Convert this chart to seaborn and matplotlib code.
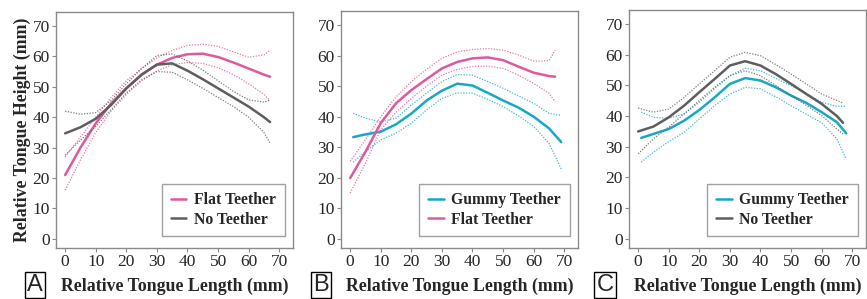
import numpy as np
import pandas as pd
import matplotlib
matplotlib.use("Agg")
import matplotlib.pyplot as plt
import seaborn as sns

# ---------------- data ----------------
x_std = [0, 5, 10, 15, 20, 25, 30, 35, 40, 45, 50, 55, 60, 65, 67]

# Panel A
flat_a = [21, 30, 38, 44.5, 49.5, 54, 57.3, 59.5, 60.7, 60.9, 59.8, 58, 56, 54, 53.3]
flat_a_hi = [27, 33.5, 40, 46.5, 52, 56, 59.5, 62, 63.6, 64, 63.3, 61.5, 59.7, 60.5, 62]
flat_a_lo = [16, 26, 35, 42, 47.5, 52, 55.2, 57.3, 58, 57.7, 56.3, 54, 51, 47.5, 45.5]
none_a = [34.7, 36.7, 39.5, 44, 49.5, 54, 57.3, 57.7, 55.3, 52.5, 49.5, 46.5, 43.5, 40, 38.4]
none_a_hi = [42, 41, 41.5, 45.5, 51, 56, 60.3, 60.8, 58.5, 55.5, 52, 48.5, 45.7, 45, 45.6]
none_a_lo = [27.5, 32.5, 37, 42.5, 48, 52.3, 55, 54.8, 52.3, 49.5, 46.5, 43.5, 40, 35, 31.5]

# Panel B
x_gummy_b = [1, 5, 10, 15, 20, 25, 30, 35, 40, 45, 50, 55, 60, 65, 69]
gummy_b = [33.3, 34.2, 35.1, 37.5, 41, 45.3, 48.5, 50.8, 50.2, 47.8, 45.3, 43, 40, 36.2, 31.7]
gummy_b_hi = [41.1, 39.5, 38.3, 39.5, 43.8, 47.7, 51.5, 53.8, 53.6, 51.5, 49.3, 46.8, 44.4, 41.1, 40.4]
gummy_b_lo = [25.1, 28.6, 32.4, 34.6, 37.9, 42.2, 46, 47.8, 47.7, 45.7, 43.3, 40.3, 36.8, 31.3, 22.9]
flat_b = [19.9, 28.5, 37.9, 44.4, 48.7, 52.3, 55.8, 57.9, 59.1, 59.4, 58.5, 56.4, 54.4, 53.3, 53.1]
flat_b_hi = [25.4, 32.5, 40, 46.5, 51.5, 55.5, 59.1, 61.2, 62, 62.3, 61.8, 60.2, 58.2, 58.3, 61.8]
flat_b_lo = [15, 24.8, 35.7, 41.5, 46, 50, 53.6, 55.5, 56.4, 56.6, 55.8, 53.6, 50.9, 47.7, 44.9]

# Panel C
x_gummy_c = [1, 5, 10, 15, 20, 25, 30, 35, 40, 45, 50, 55, 60, 65, 68]
gummy_c = [32.9, 34.2, 35.8, 38.5, 42, 46.1, 50.5, 52.4, 51.6, 49.4, 46.7, 44.3, 41.3, 38, 34.4]
gummy_c_hi = [41.3, 39.6, 39.3, 40.7, 44.5, 48.9, 53.2, 55.6, 54.8, 52.3, 49.9, 47.4, 44.5, 43.2, 43.2]
gummy_c_lo = [25, 28.2, 31.7, 34.7, 39.1, 43.4, 47.2, 49.4, 48.9, 46.3, 43.4, 40.6, 37.8, 32.6, 26.1]
none_c = [35, 36.6, 39.6, 43.4, 47.8, 52.1, 56.5, 57.9, 56.5, 53.7, 50.5, 47.2, 44, 40, 37.8]
none_c_hi = [42.6, 41.3, 42.3, 46.1, 50.5, 54.8, 59.2, 60.8, 59.7, 56.8, 53.7, 50.5, 47.2, 45.1, 44.3]
none_c_lo = [27.7, 32.6, 36.4, 40.7, 45.1, 49.4, 53.2, 54.8, 53.2, 50, 46.7, 43.5, 40.2, 35.8, 34.2]

ticks = [0, 10, 20, 30, 40, 50, 60, 70]
colors = {"Flat Teether": "#e0589e", "No Teether": "#5e5e5e", "Gummy Teether": "#17a8c6"}

# ---------------- style ----------------
sns.set_style("white")
plt.rcParams["font.family"] = ["Liberation Serif", "DejaVu Serif"]

fig = plt.figure(figsize=(8.67, 2.99), dpi=100)
W, H = 867, 299


def add_ax(left, right, top=12, bottom=248):
    return fig.add_axes([left / W, 1 - bottom / H, (right - left) / W, (bottom - top) / H])


def draw_series(ax, x, mean, hi, lo, name):
    c = colors[name]
    sns.lineplot(x=x, y=hi, ax=ax, color=c, lw=0.9, ls=(0, (1, 1.2)), alpha=0.8, sort=False)
    sns.lineplot(x=x, y=lo, ax=ax, color=c, lw=0.9, ls=(0, (1, 1.2)), alpha=0.8, sort=False)
    sns.lineplot(x=x, y=mean, ax=ax, color=c, lw=1.8, label=name, sort=False)


def style_ax(ax, first):
    ax.set_xlim(-3, 74.5)
    ax.set_ylim(-3, 74.6)
    ax.set_xticks(ticks)
    ax.set_yticks(ticks)
    for s in ax.spines.values():
        s.set_color("#8a8a8a")
        s.set_linewidth(1.0)
    ax.tick_params(axis="both", direction="out", length=3, width=0.8, color="#8a8a8a",
                   labelsize=12.5, pad=1.5, left=True, bottom=True)
    ax.set_xlabel("Relative Tongue Length (mm)", fontsize=12.8, fontweight="bold", labelpad=5)
    if first:
        ax.set_ylabel("Relative Tongue Height (mm)", fontsize=12.8, fontweight="bold", labelpad=1)
    else:
        ax.set_ylabel("")
    leg = ax.legend(loc="lower right", frameon=True, fancybox=False,
                    prop={"weight": "bold", "size": 11.3}, handlelength=1.0,
                    borderpad=0.55, labelspacing=0.2, handletextpad=0.5,
                    borderaxespad=0.3, bbox_to_anchor=(0.985, 0.03))
    leg.get_frame().set_edgecolor("#8a8a8a")
    leg.get_frame().set_linewidth(1.0)


# Panel A
ax_a = add_ax(56, 293)
draw_series(ax_a, x_std, flat_a, flat_a_hi, flat_a_lo, "Flat Teether")
draw_series(ax_a, x_std, none_a, none_a_hi, none_a_lo, "No Teether")
style_ax(ax_a, True)

# Panel B
ax_b = add_ax(341, 578, top=11)
draw_series(ax_b, x_gummy_b, gummy_b, gummy_b_hi, gummy_b_lo, "Gummy Teether")
draw_series(ax_b, x_std, flat_b, flat_b_hi, flat_b_lo, "Flat Teether")
style_ax(ax_b, False)

# Panel C
ax_c = add_ax(629, 866, top=10)
draw_series(ax_c, x_gummy_c, gummy_c, gummy_c_hi, gummy_c_lo, "Gummy Teether")
draw_series(ax_c, x_std, none_c, none_c_hi, none_c_lo, "No Teether")
style_ax(ax_c, False)

# panel letters
for letter, xpix in [("A", 35), ("B", 321), ("C", 605)]:
    fig.text(xpix / W, 1 - 285 / H, letter, fontsize=17, family="Liberation Sans",
             ha="center", va="center",
             bbox=dict(boxstyle="square,pad=0.1", fc="white", ec="black", lw=1.0))

fig.savefig("out.png", dpi=100)
